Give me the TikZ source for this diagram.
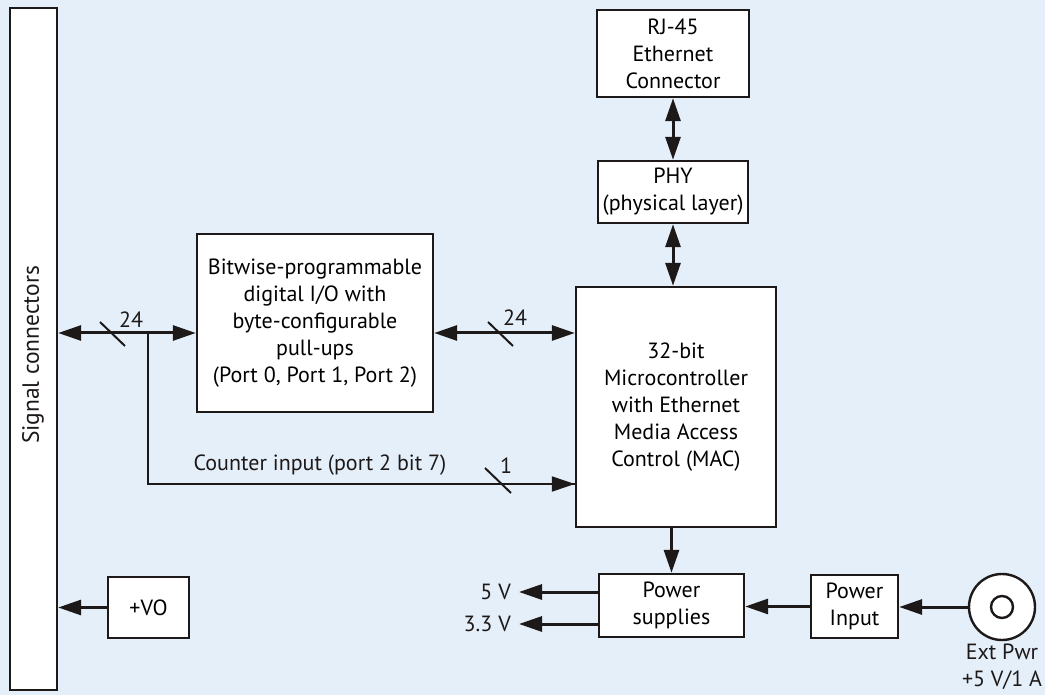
\documentclass[tikz,border=0pt]{standalone}
\usepackage{fontspec}
\setmainfont{PT Sans}
\usetikzlibrary{arrows.meta,calc}
\definecolor{bgc}{RGB}{228,239,249}
\definecolor{ink}{RGB}{30,25,25}
\tikzset{
  box/.style={draw=ink,line width=2.4pt,fill=white,align=center,inner sep=0pt,font=\fontsize{22}{27}\selectfont},
  conn/.style={draw=ink,line width=3pt,-{Triangle[length=23pt,width=15pt]}},
  dconn/.style={draw=ink,line width=3pt,{Triangle[length=23pt,width=15pt]}-{Triangle[length=23pt,width=15pt]}},
  thin/.style={draw=ink,line width=2pt},
  slash/.style={draw=ink,line width=2pt},
  lbl/.style={inner sep=0pt,font=\fontsize{22}{27}\selectfont,text=ink},
}
\begin{document}
\begin{tikzpicture}[x=1pt,y=-1pt]
\useasboundingbox (0,0) rectangle (1045,695);
\fill[bgc] (0,0) rectangle (1045,695);
% boxes
\node[box,minimum width=47pt,minimum height=682pt] (sig) at (33.5,349) {};
\node[lbl,rotate=90,font=\fontsize{23.5}{27}\selectfont] (sigt) at (33,355) {Signal connectors};
\node[box,minimum width=152pt,minimum height=87pt] (rj) at (673,53.5) {RJ-45\\Ethernet\\Connector};
\node[box,minimum width=150pt,minimum height=62pt] (phy) at (673,192) {PHY\\(physical layer)};
\node[box,minimum width=200pt,minimum height=240pt] (mcu) at (676,407) {32-bit\\Microcontroller\\with Ethernet\\Media Access\\Control (MAC)};
\node[box,minimum width=236pt,minimum height=178pt] (bit) at (315,323) {Bitwise-programmable\\digital I/O with\\byte-configurable\\pull-ups\\(Port 0, Port 1, Port 2)};
\node[box,minimum width=145pt,minimum height=63pt] (ps) at (671.5,605.5) {Power\\supplies};
\node[box,minimum width=87pt,minimum height=63pt] (pin) at (854.5,606.5) {Power\\Input};
\node[box,minimum width=81pt,minimum height=61pt] (vo) at (148.5,607.5) {+VO};
\node[draw=ink,line width=2.4pt,fill=white,circle,minimum size=66pt,inner sep=0pt] (jack) at (1002,607) {};
\node[draw=ink,line width=2.4pt,circle,minimum size=22pt,inner sep=0pt] (jin) at (jack.center) {};
\node[lbl,align=center] (ext) at (1002,667) {Ext Pwr\\+5 V/1 A};
% connectors
\draw[dconn] (rj.south) -- (rj.south |- phy.north);
\draw[dconn] (phy.south) -- (phy.south |- mcu.north);
\coordinate (br) at (148,333);
\coordinate (bc) at (148,484);
\draw[dconn] (sig.east |- br) -- (bit.west |- br);
\draw[dconn] (bit.east |- br) -- (mcu.west |- br);
\draw[thin] (br) -- (bc) -- (bc -| mcu.west);
\draw[thin,-{Triangle[length=23pt,width=15pt]}] ([xshift=-30pt]bc -| mcu.west) -- (bc -| mcu.west);
\draw[conn] (ps.north |- mcu.south) -- (ps.north);
\node[lbl,anchor=east] (v5) at (511,592) {5 V};
\node[lbl,anchor=east] (v33) at (511,624) {3.3 V};
\draw[conn] (ps.west |- v5) -- ([xshift=8pt]v5.east);
\draw[conn] (ps.west |- v33) -- ([xshift=8pt]v33.east);
\draw[conn] (pin.west) -- (ps.east |- pin.west);
\draw[conn] (jack.west) -- (pin.east |- jack.west);
\draw[conn] (vo.west) -- (sig.east |- vo.west);
% bus slashes and labels
\draw[slash] (100,322) -- (125,346);
\node[lbl] (n24a) at (131,320) {24};
\draw[slash] (488,322) -- (513,346);
\node[lbl] (n24b) at (515,318) {24};
\draw[slash] (485,468) -- (511,493);
\node[lbl] (n1) at (506,466) {1};
\node[lbl] (cnt) at (320,465) {Counter input (port 2 bit 7)};
\end{tikzpicture}
\end{document}
